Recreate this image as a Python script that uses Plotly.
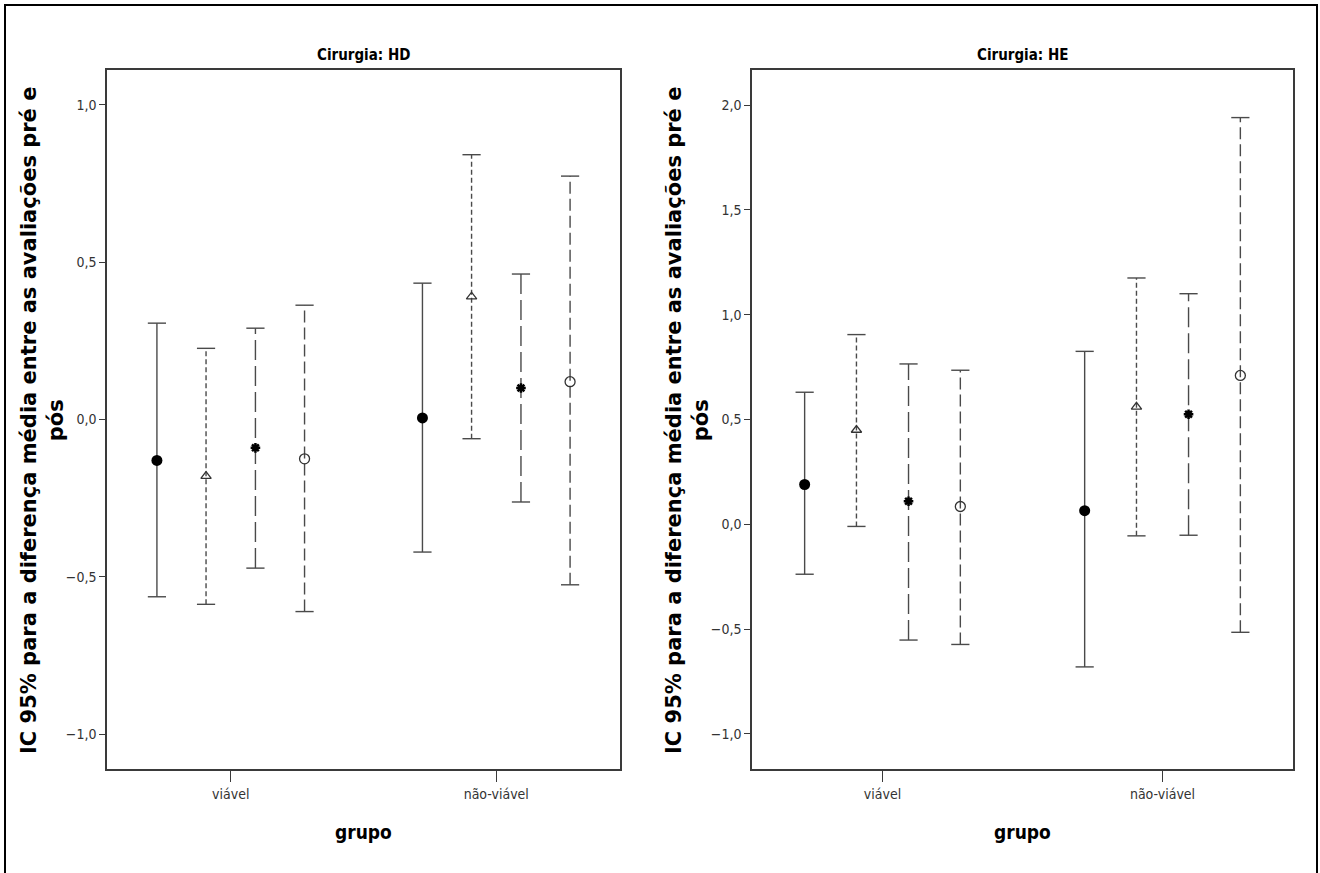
import plotly.graph_objects as go

# ---------------- data ----------------
groups = ["viável", "não-viável"]
series = ["Série 1", "Série 2", "Série 3", "Série 4"]

hd_mean_viavel = [-0.130, -0.180, -0.090, -0.125]
hd_low_viavel = [-0.563, -0.587, -0.472, -0.610]
hd_up_viavel = [0.306, 0.226, 0.290, 0.363]
hd_mean_nao = [0.005, 0.390, 0.100, 0.120]
hd_low_nao = [-0.421, -0.061, -0.262, -0.525]
hd_up_nao = [0.433, 0.841, 0.462, 0.773]

he_mean_viavel = [0.190, 0.450, 0.110, 0.085]
he_low_viavel = [-0.238, -0.010, -0.552, -0.573]
he_up_viavel = [0.630, 0.905, 0.765, 0.735]
he_mean_nao = [0.065, 0.560, 0.525, 0.710]
he_low_nao = [-0.680, -0.055, -0.052, -0.515]
he_up_nao = [0.825, 1.175, 1.100, 1.940]

hd_ticks = [-1.0, -0.5, 0.0, 0.5, 1.0]
he_ticks = [-1.0, -0.5, 0.0, 0.5, 1.0, 1.5, 2.0]

panel_titles = ["Cirurgia: HD", "Cirurgia: HE"]
y_title = "IC 95% para a diferença média entre as avaliações pré e<br>pós"
x_title = "grupo"

# ---------------- styles ----------------
offsets = [-0.278, -0.093, 0.093, 0.278]
dashes = ["solid", "5px,3px", "20px,6px", "12px,5px"]
line_col = "#4a4a4a"
marker_symbols = ["circle", "triangle-up-open", "asterisk-open", "circle-open"]
marker_sizes = [11, 9, 8, 10]
marker_lw = [0, 1.3, 2.5, 1.3]

COND = "DejaVu Sans Condensed, DejaVu Sans, sans-serif"
BOLD = "DejaVu Sans, Arial, sans-serif"

fig = go.Figure()

panels = [
    (hd_mean_viavel, hd_low_viavel, hd_up_viavel, hd_mean_nao, hd_low_nao, hd_up_nao, "x", "y"),
    (he_mean_viavel, he_low_viavel, he_up_viavel, he_mean_nao, he_low_nao, he_up_nao, "x2", "y2"),
]

for (mv, lv, uv, mn, ln, un, xa, ya) in panels:
    for s in range(4):
        xs = [0 + offsets[s], 1 + offsets[s]]
        means = [mv[s], mn[s]]
        lows = [lv[s], ln[s]]
        ups = [uv[s], un[s]]
        # vertical CI lines
        lx, ly = [], []
        for i in range(2):
            lx += [xs[i], xs[i], None]
            ly += [lows[i], ups[i], None]
        fig.add_trace(go.Scatter(x=lx, y=ly, mode="lines", xaxis=xa, yaxis=ya,
                                 line=dict(color=line_col, width=1.4, dash=dashes[s]),
                                 showlegend=False, hoverinfo="skip"))
        # caps
        fig.add_trace(go.Scatter(x=xs + xs, y=lows + ups, mode="markers", xaxis=xa, yaxis=ya,
                                 marker=dict(symbol="line-ew", size=13, color=line_col,
                                             line=dict(color=line_col, width=1.4)),
                                 showlegend=False, hoverinfo="skip"))
        # mean markers
        mc = "black" if s in (0, 2) else "#333333"
        fig.add_trace(go.Scatter(x=xs, y=means, mode="markers", xaxis=xa, yaxis=ya,
                                 name=series[s],
                                 marker=dict(symbol=marker_symbols[s], size=marker_sizes[s],
                                             color=mc, line=dict(color=mc, width=marker_lw[s])),
                                 showlegend=False))

W, H = 1320, 873
ydom = [1 - 769 / H, 1 - 70 / H]

axis_common = dict(showline=True, linecolor="#3a3a3a", linewidth=1.5, mirror=True,
                   showgrid=False, zeroline=False, ticks="outside", tickcolor="#3a3a3a",
                   tickwidth=1.3,
                   tickfont=dict(family=COND, size=14, color="#333333"))

fig.update_layout(
    width=W, height=H,
    margin=dict(l=0, r=0, t=0, b=0),
    paper_bgcolor="white", plot_bgcolor="white",
    separators=",.",
    xaxis=dict(domain=[107 / W, 620 / W], range=[-0.466, 1.466], tickvals=[0, 1],
               ticktext=groups, ticklen=11, **axis_common),
    yaxis=dict(domain=ydom, range=[-1.11, 1.11], tickvals=hd_ticks, tickformat=".1f",
               ticklen=6, **axis_common),
    xaxis2=dict(domain=[752 / W, 1293 / W], range=[-0.466, 1.466], tickvals=[0, 1],
                ticktext=groups, ticklen=11, anchor="y2", **axis_common),
    yaxis2=dict(domain=ydom, range=[-1.167, 2.167], tickvals=he_ticks, tickformat=".1f",
                ticklen=6, anchor="x2", **axis_common),
    shapes=[dict(type="rect", xref="paper", yref="paper",
                 x0=5 / W, x1=1317 / W, y0=-0.05, y1=1 - 5 / H,
                 line=dict(color="black", width=2))],
)

annots = []
centers_x = [(107 + 620) / 2 / W, (752 + 1293) / 2 / W]
ycenter = 1 - 421 / H
ytitle_x = [42 / W, 687 / W]
for i in range(2):
    annots.append(dict(text="<b>" + panel_titles[i] + "</b>", x=centers_x[i], y=1 - 55 / H,
                       xref="paper", yref="paper", showarrow=False,
                       xanchor="center", yanchor="middle",
                       font=dict(family=COND, size=15, color="black")))
    annots.append(dict(text="<b>" + x_title + "</b>", x=centers_x[i], y=1 - 832 / H,
                       xref="paper", yref="paper", showarrow=False,
                       xanchor="center", yanchor="middle",
                       font=dict(family=COND, size=19, color="black")))
    annots.append(dict(text="<b>" + y_title + "</b>", x=ytitle_x[i], y=ycenter,
                       xref="paper", yref="paper", showarrow=False, textangle=-90,
                       xanchor="center", yanchor="middle",
                       font=dict(family=BOLD, size=21, color="black")))
fig.update_layout(annotations=annots)

fig.write_html("out.html")
